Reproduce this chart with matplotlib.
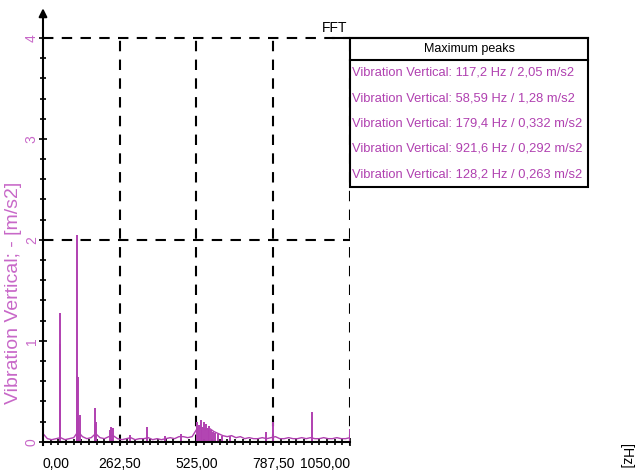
import numpy as np
import matplotlib
matplotlib.use('Agg')
import matplotlib.pyplot as plt
from matplotlib.ticker import MultipleLocator, FixedLocator, FixedFormatter

# background spectrum, one value every 15 Hz from 0 to 1050 Hz
base_amp = [0.08, 0.03, 0.02, 0.03, 0.04, 0.02, 0.03, 0.04, 0.10, 0.05,
            0.03, 0.04, 0.08, 0.04, 0.03, 0.05, 0.06, 0.03, 0.02, 0.03,
            0.04, 0.02, 0.03, 0.03, 0.04, 0.02, 0.03, 0.02, 0.03, 0.04,
            0.03, 0.05, 0.05, 0.04, 0.05, 0.12, 0.14, 0.12, 0.13, 0.10,
            0.08, 0.06, 0.05, 0.06, 0.04, 0.05, 0.03, 0.04, 0.03, 0.03,
            0.04, 0.03, 0.04, 0.05, 0.03, 0.03, 0.04, 0.03, 0.03, 0.04,
            0.03, 0.04, 0.03, 0.03, 0.04, 0.03, 0.03, 0.04, 0.03, 0.03,
            0.04]
base_freq = np.linspace(0, 1050, len(base_amp))

# spectral lines
spike_freq = [56.6, 58.6, 115.3, 117.2, 119.1, 121.1, 128.2, 177.5, 179.4, 181.3,
              230, 234, 240, 296, 357, 416, 473, 527, 533, 539,
              545, 551, 557, 563, 569, 575, 581, 590, 600, 612,
              640, 764, 787.5, 921.6, 1050]
spike_amp = [0.97, 1.28, 0.65, 2.05, 0.64, 0.23, 0.263, 0.18, 0.332, 0.20,
             0.12, 0.15, 0.14, 0.07, 0.15, 0.06, 0.08, 0.20, 0.17, 0.21,
             0.15, 0.20, 0.18, 0.14, 0.16, 0.12, 0.10, 0.09, 0.08, 0.06,
             0.06, 0.10, 0.20, 0.29, 0.13]

xticks = [0, 262.5, 525, 787.5, 1050]
xtick_labels = ['0,00', '262,50', '525,00', '787,50', '1050,00']
yticks = [0, 1, 2, 3, 4]
peak_rows = ['Vibration Vertical: 117,2 Hz / 2,05 m/s2',
             'Vibration Vertical: 58,59 Hz / 1,28 m/s2',
             'Vibration Vertical: 179,4 Hz / 0,332 m/s2',
             'Vibration Vertical: 921,6 Hz / 0,292 m/s2',
             'Vibration Vertical: 128,2 Hz / 0,263 m/s2']

mag = '#b040b0'
mag_light = '#c868c8'

plt.rcParams['font.family'] = ['Liberation Sans', 'DejaVu Sans']

fig = plt.figure(figsize=(6.36, 4.72), dpi=100)
ax = fig.add_axes([0.0676, 0.0578, 0.4827, 0.8617])

ax.plot(base_freq, base_amp, color=mag, lw=1)
ax.vlines(spike_freq, 0, spike_amp, color=mag, lw=1.4)

ax.set_xlim(0, 1050)
ax.set_ylim(-0.03, 4)

# dashed grid
for x in xticks[1:]:
    ax.axvline(x, color='black', lw=1.5, ls=(0, (5, 4)), zorder=0)
for y in [2, 4]:
    ax.axhline(y, color='black', lw=1.5, ls=(0, (5, 4)), zorder=0, clip_on=False)

for s in ['top', 'right']:
    ax.spines[s].set_visible(False)
ax.spines['left'].set_linewidth(1.5)
ax.spines['bottom'].set_position(('data', 0))
ax.spines['bottom'].set_linewidth(1.5)

ax.xaxis.set_major_locator(FixedLocator(xticks))
ax.xaxis.set_major_formatter(FixedFormatter(xtick_labels))
ax.xaxis.set_minor_locator(MultipleLocator(26.25))
ax.yaxis.set_major_locator(FixedLocator(yticks))
ax.yaxis.set_minor_locator(MultipleLocator(0.2))
ax.tick_params(axis='both', which='both', direction='inout', width=1.2)
ax.tick_params(axis='both', which='major', length=6)
ax.tick_params(axis='both', which='minor', length=4)
ax.tick_params(axis='x', labelsize=10, pad=8)
ax.tick_params(axis='y', labelsize=10, labelcolor=mag_light, pad=0)
for lab in ax.get_yticklabels():
    lab.set_rotation(90)
    lab.set_va('center')
xl = ax.get_xticklabels()
xl[0].set_ha('left')
xl[-1].set_ha('right')

# y axis arrow
ax.annotate('', xy=(0, 1.08), xytext=(0, 0.99), xycoords='axes fraction',
            arrowprops=dict(arrowstyle='-|>', color='black', lw=1.5, mutation_scale=12))

fig.text(14 / 636, 1 - 293 / 472, 'Vibration Vertical; - [m/s2]', rotation=90,
         color=mag_light, fontsize=14, ha='center', va='center')

fig.text(335 / 636, 1 - 28 / 472, 'FFT', fontsize=10, ha='center', va='center')

# peak table
tx0, tx1 = 350 / 636, 588 / 636
ty_top, ty_head, ty_bot = 1 - 38 / 472, 1 - 60 / 472, 1 - 187 / 472
fig.add_artist(plt.Line2D([333 / 636, tx1], [ty_top, ty_top], color='black', lw=1.5))
fig.add_artist(plt.Rectangle((tx0, ty_bot), tx1 - tx0, ty_top - ty_bot,
                             fill=False, edgecolor='black', lw=1.5))
fig.add_artist(plt.Line2D([tx0, tx1], [ty_head, ty_head], color='black', lw=1.5))
fig.text((tx0 + tx1) / 2, (ty_top + ty_head) / 2, 'Maximum peaks', fontsize=9,
         ha='center', va='center')
row_h = (ty_head - ty_bot) / len(peak_rows)
for i, row in enumerate(peak_rows):
    fig.text(tx0 + 2 / 636, ty_head - row_h * (i + 0.5), row, fontsize=9.3,
             color=mag, ha='left', va='center')

fig.text(626 / 636, 1 - 456 / 472, '[Hz]', rotation=270, fontsize=10,
         ha='center', va='center')

fig.savefig('out.png', dpi=100)
